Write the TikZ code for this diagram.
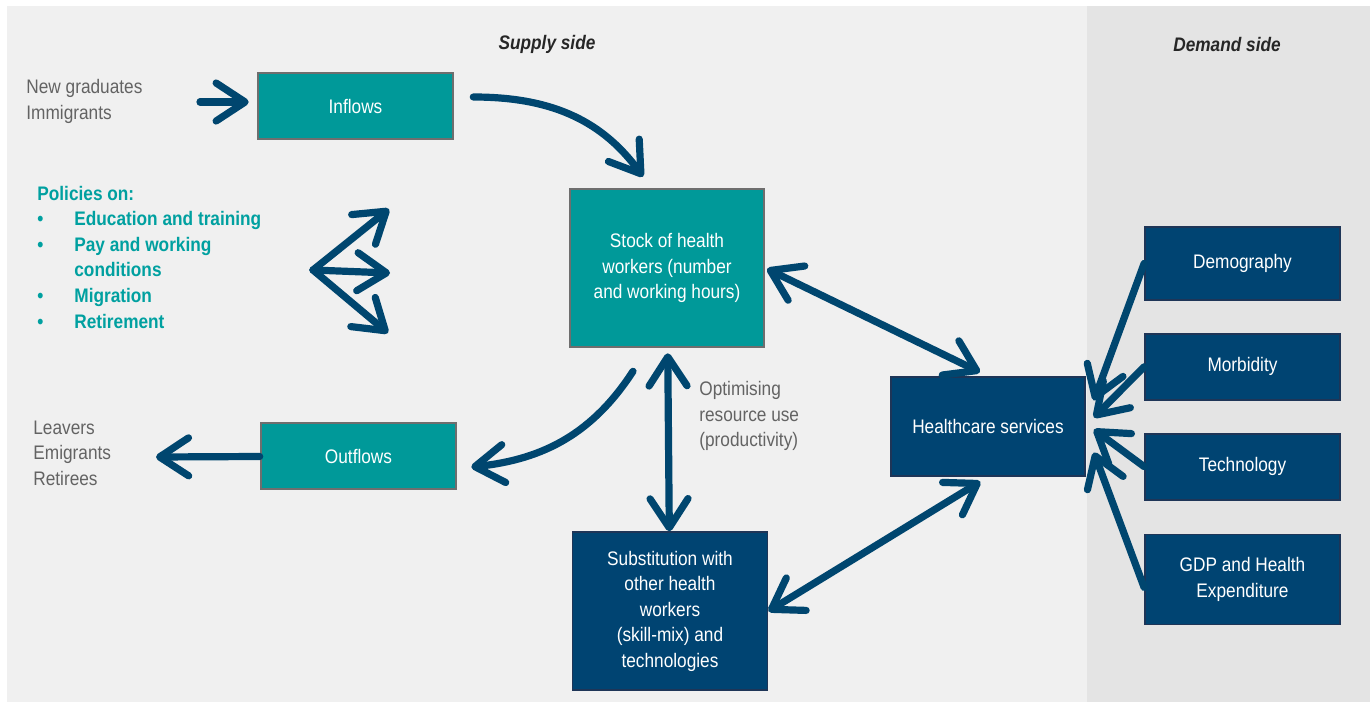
\documentclass[tikz,border=0pt]{standalone}
\usepackage{fontspec}
\setmainfont{Liberation Sans}[FakeStretch=0.88]
\usepackage{tikz}
\usetikzlibrary{arrows.meta,positioning}

\definecolor{supplybg}{HTML}{F0F0F0}
\definecolor{demandbg}{HTML}{E4E4E4}
\definecolor{tealbox}{HTML}{009999}
\definecolor{tealtext}{HTML}{00A0A0}
\definecolor{navy}{HTML}{004472}
\definecolor{navyline}{HTML}{1E3557}
\definecolor{arrowblue}{HTML}{00466F}
\definecolor{greytext}{HTML}{636363}
\definecolor{edgegrey}{HTML}{6E6E6E}

\newcommand{\pitem}{\makebox[18.5pt][l]{\textbullet}}

\begin{document}
\begin{tikzpicture}[x=0.5pt, y=0.5pt, font=\fontsize{9.8}{12.8}\selectfont]
	\tikzstyle{flow}=[rectangle, draw=edgegrey, line width=1.3pt, fill=tealbox, text=white, align=center, inner sep=0pt, minimum width=97.5pt, minimum height=33pt]
\tikzstyle{driver}=[rectangle, draw=navyline, line width=0.9pt, fill=navy, text=white, align=center, inner sep=0pt, minimum width=97.5pt, minimum height=33pt]
\tikzstyle{note}=[text=greytext, align=left, inner sep=0pt]
\tikzstyle{connect}=[-{Straight Barb[length=14.5pt,width=19pt,round]}, line width=3.6pt, draw=arrowblue, line cap=round]
\tikzstyle{both}=[connect, {Straight Barb[length=14.5pt,width=19pt,round]}-{Straight Barb[length=14.5pt,width=19pt,round]}]
  \useasboundingbox (0,0) rectangle (1370,-702);
  \fill[supplybg] (7,-6) rectangle (1087,-702);
  \fill[demandbg] (1087,-6) rectangle (1370,-702);

  \node[inner sep=0pt, text=black!85] (supply) at (547,-44) {\textbf{\textit{Supply side}}};
  \node[inner sep=0pt, text=black!85] (demand) at (1227,-44) {\textbf{\textit{Demand side}}};

  \node[flow] (inflows) at (355.5,-106) {Inflows};
  \node[flow] (outflows) at (358.5,-456) {Outflows};
  \node[flow, minimum width=97pt, minimum height=79pt] (stock) at (667,-268) {Stock of health\\workers (number\\and working hours)};
  \node[driver, minimum height=79pt] (sub) [below=91.5pt of stock, xshift=1.5pt] {Substitution with\\other health\\workers\\(skill-mix) and\\technologies};
  \node[driver, minimum width=97pt, minimum height=49.5pt] (hc) at (988,-426.5) {Healthcare services};
  \node[driver, minimum height=36.5pt] (demo) at (1242.5,-263.5) {Demography};
  \node[driver] (morb) [below=16pt of demo] {Morbidity};
  \node[driver] (tech) [below=16pt of morb] {Technology};
  \node[driver, minimum height=45pt] (gdp) [below=16.5pt of tech] {GDP and Health\\Expenditure};

  \node[note, anchor=west] (entrants) at (26,-101.5) {New graduates\\Immigrants};
  \node[note, anchor=west] (leavers) at (33,-453) {Leavers\\Emigrants\\Retirees};
  \node[note, anchor=west] (optim) at (699,-416) {Optimising\\resource use\\(productivity)};
  \node[inner sep=0pt, anchor=west, align=left, text=tealtext, font=\fontsize{9.8}{12.8}\selectfont\bfseries] (policies) at (37,-257)
    {Policies on:\\\pitem Education and training\\\pitem Pay and working\\\hspace*{18.5pt}conditions\\\pitem Migration\\\pitem Retirement};

  \coordinate (gradin) at (200,-102);
  \coordinate (leave) at (156,-457);
  \coordinate (fan) at (313,-270);
  \coordinate (fanup) at (389,-209);
  \coordinate (fanmid) at (390,-273);
  \coordinate (fandown) at (388,-333);

  \path
        (gradin) edge [connect, shorten >=4pt] (gradin -| inflows.west)
        (outflows) edge [connect] (leave)
        (fan) edge [connect] (fanup)
        (fan) edge [connect] (fanmid)
        (fan) edge [connect] (fandown)
        (stock) edge [both, shorten <=2.5pt] (sub)
        (stock.east) edge [both, shorten <=1pt, shorten >=4.5pt] (hc.north)
        (sub.east) edge [both, shorten >=4.5pt] (hc.south)
        (demo.west) edge [connect] ([xshift=4pt,yshift=13pt]hc.east)
        (morb.west) edge [connect] ([xshift=4pt,yshift=4.5pt]hc.east)
        (tech.west) edge [connect] ([xshift=4pt,yshift=-1.5pt]hc.east)
        ([yshift=-4pt]gdp.west) edge [connect] ([xshift=4pt,yshift=-13pt]hc.east);
  \draw[connect] ([xshift=9.5pt,yshift=4.5pt]inflows.east) to[out=0, in=126] ([xshift=-12pt,yshift=5.5pt]stock.north);
  \draw[connect] ([xshift=-17pt,yshift=-11.5pt]stock.south) to[out=-123, in=6] ([xshift=7pt,yshift=-5.5pt]outflows.east);

	\end{tikzpicture}
\end{document}
